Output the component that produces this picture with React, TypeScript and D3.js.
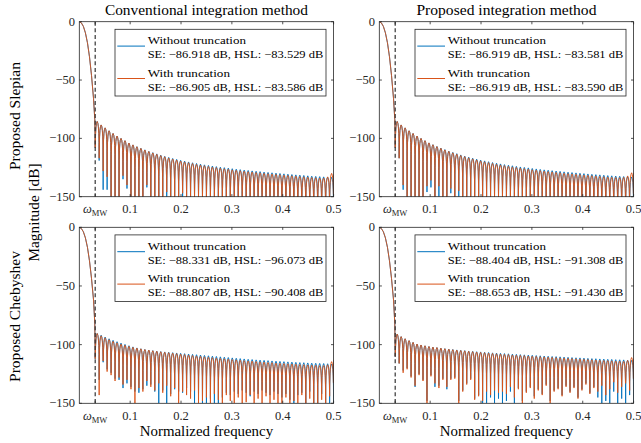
import React from 'react';
import * as d3 from 'd3';

// ---------- data ----------
const windowLength = 128; // sidelobe spacing = 1/128
const firstNullBin = 4; // first null at 4/128 = omega_MW
const omegaMW = 0.03125;

const xTickValues = [0.03125, 0.1, 0.2, 0.3, 0.4, 0.5];
const xTickLabels = ['ω', '0.1', '0.2', '0.3', '0.4', '0.5'];
const yTickValues = [0, -50, -100, -150];
const yTickLabels = ['0', '−50', '−100', '−150'];

const colTitles = ['Conventional integration method', 'Proposed integration method'];
const rowLabels = ['Proposed Slepian', 'Proposed Chebyshev'];
const seriesNames = ['Without truncation', 'With truncation'];
const seriesColors = ['#0072BD', '#D95319'];

const legendStats = [
  ['SE: −86.918 dB, HSL: −83.529 dB', 'SE: −86.905 dB, HSL: −83.586 dB'],
  ['SE: −86.919 dB, HSL: −83.581 dB', 'SE: −86.919 dB, HSL: −83.590 dB'],
  ['SE: −88.331 dB, HSL: −96.073 dB', 'SE: −88.807 dB, HSL: −90.408 dB'],
  ['SE: −88.404 dB, HSL: −91.308 dB', 'SE: −88.653 dB, HSL: −91.430 dB'],
];

// main lobe (normalized frequency, dB)
const mainLobeFreq = [0, 0.004, 0.008, 0.012, 0.016, 0.02, 0.024, 0.028, 0.0305];
const mainLobeSlepian = [0, -1, -4, -9.5, -18, -30, -46, -66, -84];
const mainLobeCheb = [0, -1, -3.8, -9, -17, -28.5, -43.5, -62, -82];

// shape of one sidelobe between two nulls (fraction of lobe, dB below lobe peak)
const lobePos = [0.04, 0.1, 0.2, 0.32, 0.5, 0.68, 0.8, 0.9, 0.96];
const lobeDrop = [-18, -10.2, -4.6, -1.6, 0, -1.6, -4.6, -10.2, -18];

// ---- Slepian, conventional integration ----
const slepConvPeaksNoTrunc = [
  -85.5, -88.5, -91, -93.5, -95.8, -98, -100, -102, -104, -105.6,
  -107.1, -108.5, -109.8, -111.1, -112.2, -113.3, -114.4, -115.4, -116.3, -117.2,
  -118, -118.8, -119.5, -120.2, -120.9, -121.5, -122.1, -122.7, -123.2, -123.7,
  -124.2, -124.7, -125.1, -125.5, -126, -126.4, -126.8, -127.2, -127.5, -127.9,
  -128.2, -128.5, -128.9, -129.2, -129.5, -129.8, -130.1, -130.4, -130.7, -131,
  -131.3, -131.5, -131.8, -132.1, -132.4, -132.6, -132.8, -133, -133.2, -133.4,
];
const slepConvPeaksTrunc = [
  -85.5, -88.5, -91, -93.5, -95.8, -98, -100, -102, -104, -105.6,
  -107.2, -108.6, -110, -111.3, -112.5, -113.7, -114.8, -115.8, -116.8, -117.7,
  -118.6, -119.4, -120.2, -120.9, -121.6, -122.3, -122.9, -123.5, -124.1, -124.6,
  -125.1, -125.6, -126.1, -126.5, -127, -127.4, -127.8, -128.2, -128.6, -128.9,
  -129.3, -129.6, -130, -130.3, -130.6, -130.9, -131.2, -131.5, -131.8, -132.1,
  -132.4, -132.7, -133, -133.3, -133.6, -133.8, -134, -134, -133, -130,
];
const slepConvNullsNoTrunc = [
  -108, -119, -144, -144, -150, -150, -150, -135, -143, -150,
  -150, -150, -150, -142, -150, -150, -150, -150, -150, -150,
  -150, -150, -150, -150, -150, -150, -150, -150, -150, -150,
  -150, -150, -150, -150, -150, -150, -150, -150, -150, -150,
  -150, -150, -150, -150, -150, -150, -150, -150, -150, -150,
  -150, -150, -150, -150, -150, -150, -150, -150, -150, -150,
  -150,
];
const slepConvNullsTrunc = [
  -108, -117, -128, -133, -150, -150, -150, -132, -140, -150,
  -150, -150, -150, -140, -150, -150, -150, -150, -146, -150,
  -150, -150, -147, -150, -150, -150, -150, -150, -150, -150,
  -150, -150, -150, -150, -150, -150, -150, -150, -150, -150,
  -150, -150, -150, -150, -150, -150, -150, -150, -150, -150,
  -150, -150, -150, -150, -150, -150, -150, -150, -150, -150,
  -131,
];

// ---- Slepian, proposed integration ----
const slepPropPeaksNoTrunc = [
  -85.5, -88.5, -91, -93.5, -95.8, -98, -100, -102, -103.9, -105.4,
  -106.9, -108.3, -109.6, -110.9, -112, -113.1, -114.2, -115.2, -116.1, -117,
  -117.8, -118.6, -119.3, -120, -120.7, -121.3, -121.9, -122.5, -123, -123.5,
  -124, -124.5, -124.9, -125.3, -125.8, -126.2, -126.6, -127, -127.3, -127.7,
  -128, -128.3, -128.7, -129, -129.3, -129.6, -129.9, -130.2, -130.5, -130.8,
  -131.1, -131.3, -131.6, -131.9, -132.1, -132.3, -132.5, -132.7, -132.9, -133.1,
];
const slepPropPeaksTrunc = [
  -85.5, -88.5, -91, -93.5, -95.8, -98, -100, -102, -103.9, -105.5,
  -107.1, -108.5, -109.9, -111.2, -112.4, -113.6, -114.7, -115.7, -116.7, -117.6,
  -118.5, -119.3, -120.1, -120.8, -121.5, -122.2, -122.8, -123.4, -124, -124.5,
  -125, -125.5, -126, -126.4, -126.9, -127.3, -127.7, -128.1, -128.5, -128.8,
  -129.2, -129.5, -129.9, -130.2, -130.5, -130.8, -131.1, -131.4, -131.7, -132,
  -132.3, -132.6, -132.9, -133.2, -133.4, -133.6, -133.7, -133.5, -132.2, -129.5,
];
const slepPropNullsNoTrunc = [
  -108, -117, -144, -150, -150, -150, -150, -150, -146, -142,
  -150, -150, -150, -150, -147, -150, -150, -150, -150, -150,
  -150, -150, -150, -150, -150, -150, -150, -150, -150, -150,
  -150, -150, -150, -150, -150, -150, -150, -150, -150, -150,
  -150, -150, -150, -150, -150, -150, -150, -150, -150, -150,
  -150, -150, -150, -150, -150, -150, -150, -150, -150, -150,
  -150,
];
const slepPropNullsTrunc = [
  -108, -117, -140, -150, -150, -150, -150, -150, -141, -136,
  -150, -141, -150, -150, -143, -150, -145, -150, -150, -150,
  -150, -150, -150, -150, -150, -150, -150, -150, -150, -150,
  -150, -150, -150, -150, -150, -150, -150, -150, -150, -150,
  -150, -150, -150, -150, -150, -150, -150, -150, -150, -150,
  -150, -150, -150, -150, -150, -150, -150, -150, -150, -150,
  -129.5,
];

// ---- Chebyshev, conventional integration ----
const chebConvPeaksNoTrunc = [
  -90.5, -92, -93.5, -95, -96.3, -97.5, -98.7, -99.8, -100.9, -101.9,
  -102.8, -103.5, -104.1, -104.6, -105.1, -105.5, -105.9, -106.2, -106.5, -106.8,
  -107.1, -107.4, -107.7, -108, -108.3, -108.6, -108.9, -109.2, -109.5, -109.8,
  -110.1, -110.4, -110.7, -111, -111.3, -111.6, -111.9, -112.2, -112.5, -112.7,
  -113, -113.2, -113.4, -113.6, -113.9, -114.1, -114.3, -114.5, -114.7, -114.9,
  -115.1, -115.3, -115.4, -115.6, -115.8, -115.9, -116, -116.1, -116.3, -116.5,
];
const chebConvPeaksTrunc = [
  -90.5, -92.5, -94.2, -95.8, -97.2, -98.5, -99.6, -100.6, -101.5, -102.3,
  -103, -103.6, -104.2, -104.7, -105.2, -105.7, -106.1, -106.5, -106.9, -107.3,
  -107.7, -108.1, -108.5, -108.9, -109.3, -109.7, -110, -110.4, -110.8, -111.1,
  -111.5, -111.8, -112.1, -112.4, -112.7, -113, -113.3, -113.6, -113.9, -114.1,
  -114.4, -114.7, -114.9, -115.2, -115.4, -115.7, -115.9, -116.1, -116.3, -116.5,
  -116.7, -116.9, -117.1, -117.3, -117.5, -117.6, -117.8, -117.8, -117.2, -114.5,
];
const chebConvNullsNoTrunc = [
  -112, -130, -115, -121, -124, -129, -130, -137, -133, -136,
  -140, -141, -138, -135, -134, -140, -150, -139, -150, -142,
  -138, -140, -141, -137, -140, -150, -142, -150, -150, -146,
  -150, -150, -145, -141, -143, -140, -142, -139, -141, -144,
  -140, -142, -139, -141, -143, -140, -142, -145, -142, -147,
  -150, -143, -141, -150, -140, -150, -150, -142, -150, -150,
  -150,
];
const chebConvNullsTrunc = [
  -112, -143, -114, -123, -126, -131, -128, -134, -130, -138,
  -150, -137, -140, -131, -136, -139, -133, -141, -135, -144,
  -137, -150, -140, -143, -146, -139, -150, -148, -145, -150,
  -142, -147, -150, -143, -148, -150, -145, -150, -149, -143,
  -150, -146, -150, -144, -150, -147, -150, -150, -145, -150,
  -148, -150, -143, -150, -146, -150, -150, -147, -150, -144,
  -113,
];

// ---- Chebyshev, proposed integration ----
const chebPropPeaksNoTrunc = [
  -91, -93.2, -95, -96.6, -98.1, -99.5, -100.3, -101, -101.6, -102.1,
  -102.5, -103, -103.4, -103.8, -104.1, -104.5, -104.8, -105.1, -105.4, -105.7,
  -106, -106.2, -106.5, -106.7, -107, -107.2, -107.4, -107.6, -107.8, -108.1,
  -108.3, -108.5, -108.7, -108.9, -109.1, -109.3, -109.5, -109.7, -109.9, -110.1,
  -110.2, -110.4, -110.6, -110.8, -111, -111.2, -111.3, -111.5, -111.7, -111.9,
  -112, -112.2, -112.3, -112.5, -112.6, -112.8, -112.9, -113, -113.2, -113.4,
];
const chebPropPeaksTrunc = [
  -91, -93.2, -95, -96.6, -98.1, -99.5, -100.3, -101, -101.6, -102.1,
  -102.5, -103, -103.5, -103.9, -104.3, -104.7, -105, -105.3, -105.7, -106,
  -106.3, -106.6, -106.9, -107.2, -107.5, -107.8, -108, -108.3, -108.5, -108.8,
  -109, -109.2, -109.4, -109.7, -109.9, -110.1, -110.3, -110.5, -110.7, -110.9,
  -111.1, -111.3, -111.5, -111.7, -111.9, -112.1, -112.3, -112.5, -112.7, -112.9,
  -113.1, -113.3, -113.5, -113.6, -113.8, -114, -114.1, -114.3, -113.5, -111,
];
const chebPropNullsNoTrunc = [
  -110, -116, -122, -120, -127, -136, -125, -130, -148, -126,
  -136, -135, -129, -138, -129, -128, -148, -139, -133, -129,
  -146, -143, -150, -150, -145, -150, -146, -150, -148, -140,
  -150, -137, -148, -140, -136, -144, -138, -142, -134, -148,
  -139, -137, -143, -135, -140, -136, -145, -138, -133, -141,
  -136, -145, -150, -148, -150, -140, -150, -146, -150, -143,
  -150,
];
const chebPropNullsTrunc = [
  -110, -116, -124, -121, -128, -135, -126, -131, -150, -127,
  -133, -137, -130, -136, -130, -129, -150, -140, -134, -130,
  -147, -144, -148, -140, -143, -139, -141, -140, -142, -136,
  -145, -138, -150, -141, -137, -146, -139, -143, -135, -150,
  -140, -138, -144, -136, -141, -137, -146, -139, -134, -142,
  -137, -140, -135, -143, -138, -132, -141, -136, -133, -139,
  -112,
];

const panelData = [
  { main: mainLobeSlepian, peaks: [slepConvPeaksNoTrunc, slepConvPeaksTrunc], nulls: [slepConvNullsNoTrunc, slepConvNullsTrunc] },
  { main: mainLobeSlepian, peaks: [slepPropPeaksNoTrunc, slepPropPeaksTrunc], nulls: [slepPropNullsNoTrunc, slepPropNullsTrunc] },
  { main: mainLobeCheb, peaks: [chebConvPeaksNoTrunc, chebConvPeaksTrunc], nulls: [chebConvNullsNoTrunc, chebConvNullsTrunc] },
  { main: mainLobeCheb, peaks: [chebPropPeaksNoTrunc, chebPropPeaksTrunc], nulls: [chebPropNullsNoTrunc, chebPropNullsTrunc] },
];

// ---------- layout ----------
const W = 641;
const H = 443;
const panelLeft = [79.3, 379.3];
const panelWidth = 254.3;
const panelTop = [21.7, 227.3];
const panelHeight = [175, 176];
const axisColor = '#262626';
const tickLen = 2.6;
const FONT = "'Liberation Serif', 'Times New Roman', serif";

function buildSpectrum(mainDb: number[], peaks: number[], nulls: number[]): [number, number][] {
  const pts: [number, number][] = mainLobeFreq.map((f, i) => [f, mainDb[i]] as [number, number]);
  for (let j = 0; j < peaks.length; j++) {
    const k = firstNullBin + j;
    pts.push([k / windowLength, nulls[j]]);
    lobePos.forEach((u, m) => pts.push([(k + u) / windowLength, peaks[j] + lobeDrop[m]]));
  }
  pts.push([(firstNullBin + peaks.length) / windowLength, nulls[peaks.length]]);
  return pts;
}

function Panel({ r, c }: { r: number; c: number }) {
  const idx = r * 2 + c;
  const d = panelData[idx];
  const x0 = panelLeft[c];
  const y0 = panelTop[r];
  const w = panelWidth;
  const h = panelHeight[r];
  const xs = d3.scaleLinear().domain([0, 0.5]).range([x0, x0 + w]);
  const ys = d3.scaleLinear().domain([-150, 0]).range([y0 + h, y0]);
  const line = d3
    .line<[number, number]>()
    .x((p) => xs(p[0]))
    .y((p) => ys(Math.max(p[1], -160)));
  const clipId = `clip-${r}-${c}`;
  const series = [0, 1].map((s) => buildSpectrum(d.main, d.peaks[s], d.nulls[s]));

  const lx = x0 + 35.7;
  const ly = y0 + 7.6;
  const lw = 211;
  const lh = 66.7;

  return (
    <g>
      <defs>
        <clipPath id={clipId}>
          <rect x={x0} y={y0} width={w} height={h} />
        </clipPath>
      </defs>
      <g clipPath={`url(#${clipId})`}>
        {series.map((pts, s) => (
          <path key={s} d={line(pts) || ''} fill="none" stroke={seriesColors[s]} strokeWidth={0.9} strokeLinejoin="round" />
        ))}
        <line x1={xs(omegaMW)} x2={xs(omegaMW)} y1={y0} y2={y0 + h} stroke="#333" strokeWidth={1.2} strokeDasharray="4,2.6" />
      </g>
      <rect x={x0} y={y0} width={w} height={h} fill="none" stroke={axisColor} strokeWidth={0.8} />
      {xTickValues.map((v, i) => (
        <g key={`xt${i}`}>
          <line x1={xs(v)} x2={xs(v)} y1={y0 + h} y2={y0 + h - tickLen} stroke={axisColor} strokeWidth={0.8} />
          <line x1={xs(v)} x2={xs(v)} y1={y0} y2={y0 + tickLen} stroke={axisColor} strokeWidth={0.8} />
          {i === 0 ? (
            <text x={xs(v)} y={y0 + h + 16.6} textAnchor="middle" fontSize={12.5} fill={axisColor}>
              <tspan fontStyle="italic">{xTickLabels[i]}</tspan>
              <tspan fontSize={8.5} dy={2.8}>MW</tspan>
            </text>
          ) : (
            <text x={xs(v)} y={y0 + h + 16.6} textAnchor="middle" fontSize={12.5} fill={axisColor}>
              {xTickLabels[i]}
            </text>
          )}
        </g>
      ))}
      {yTickValues.map((v, i) => (
        <g key={`yt${i}`}>
          <line x1={x0} x2={x0 + tickLen} y1={ys(v)} y2={ys(v)} stroke={axisColor} strokeWidth={0.8} />
          <line x1={x0 + w} x2={x0 + w - tickLen} y1={ys(v)} y2={ys(v)} stroke={axisColor} strokeWidth={0.8} />
          <text x={x0 - 4.3} y={ys(v) + 4} textAnchor="end" fontSize={12.5} fill={axisColor}>
            {yTickLabels[i]}
          </text>
        </g>
      ))}
      {/* legend */}
      <rect x={lx} y={ly} width={lw} height={lh} fill="#fff" stroke={axisColor} strokeWidth={0.8} />
      {[0, 1].map((s) => {
        const base = ly + (s === 0 ? 0 : 32.4);
        return (
          <g key={`lg${s}`}>
            <line x1={lx + 2.3} x2={lx + 30} y1={base + 16.8} y2={base + 16.8} stroke={seriesColors[s]} strokeWidth={1} />
            <text x={lx + 32.7} y={base + 15} fontSize={11} fill="#000" textLength={s === 0 ? 98.3 : 82.3} lengthAdjust="spacingAndGlyphs">
              {seriesNames[s]}
            </text>
            <text x={lx + 32.7} y={base + 28.8} fontSize={11} fill="#000" textLength={175.6} lengthAdjust="spacingAndGlyphs">
              {legendStats[idx][s]}
            </text>
          </g>
        );
      })}
    </g>
  );
}

export default function App() {
  return (
    <svg width={W} height={H} style={{ position: 'absolute', left: 0, top: 0, display: 'block' }} fontFamily={FONT}>
      <rect x={0} y={0} width={W} height={H} fill="#fff" />
      {[0, 1].map((r) => [0, 1].map((c) => <Panel key={`${r}-${c}`} r={r} c={c} />))}
      {colTitles.map((t, c) => (
        <text key={`t${c}`} x={panelLeft[c] + panelWidth / 2} y={15} textAnchor="middle" fontSize={14} fill="#000" textLength={c === 0 ? 203 : 180} lengthAdjust="spacingAndGlyphs">
          {t}
        </text>
      ))}
      {[0, 1].map((c) => (
        <text key={`xl${c}`} x={panelLeft[c] + panelWidth / 2} y={436} textAnchor="middle" fontSize={14} fill="#000" textLength={133.3} lengthAdjust="spacingAndGlyphs">
          Normalized frequency
        </text>
      ))}
      {rowLabels.map((t, r) => (
        <text key={`yl${r}`} transform={`translate(20,${r === 0 ? 116 : 316.5}) rotate(-90)`} textAnchor="middle" fontSize={14} fill="#000" textLength={r === 0 ? 108 : 131} lengthAdjust="spacingAndGlyphs">
          {t}
        </text>
      ))}
      <text transform="translate(39,212.5) rotate(-90)" textAnchor="middle" fontSize={14} fill="#000" textLength={98} lengthAdjust="spacingAndGlyphs">
        Magnitude [dB]
      </text>
    </svg>
  );
}
